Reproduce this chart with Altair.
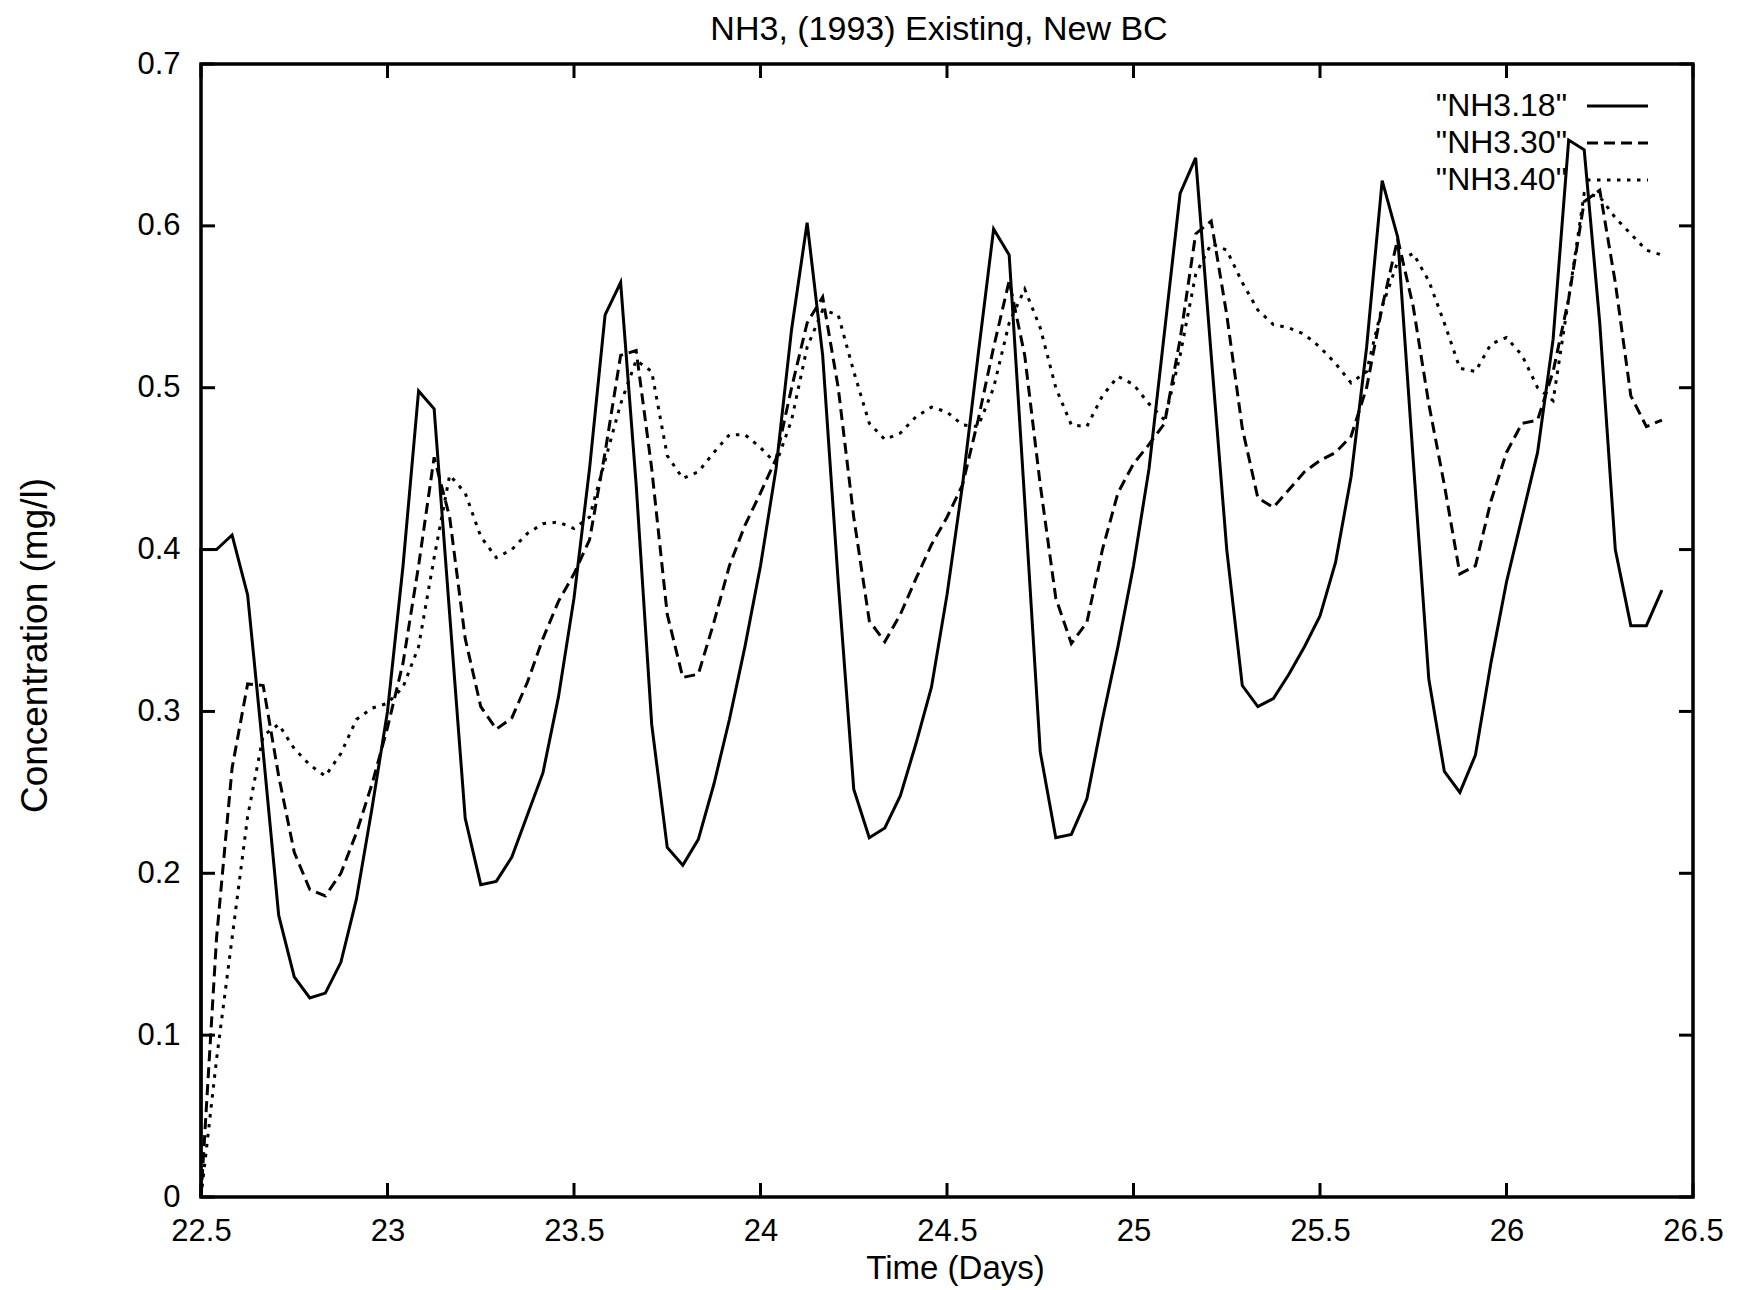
import altair as alt
import pandas as pd

# ---------------- data ----------------
HOURS = list(range(95))                      # hourly output steps
time_days = [22.5 + h / 24 for h in HOURS]   # 22.5 ... 26.417 days

nh3_18_initial = 0.0   # value at t = 22.5 before the jump
nh3_18 = [
    0.400, 0.400, 0.409, 0.372, 0.275, 0.174, 0.136, 0.123, 0.126, 0.145,
    0.184, 0.240, 0.300, 0.390, 0.498, 0.487, 0.360, 0.234, 0.193, 0.195,
    0.210, 0.236, 0.262, 0.309, 0.370, 0.450, 0.545, 0.565, 0.440, 0.292,
    0.216, 0.205, 0.221, 0.255, 0.295, 0.340, 0.390, 0.450, 0.536, 0.602,
    0.520, 0.380, 0.252, 0.222, 0.228, 0.248, 0.280, 0.315, 0.372, 0.440,
    0.520, 0.598, 0.582, 0.430, 0.275, 0.222, 0.224, 0.246, 0.295, 0.340,
    0.390, 0.450, 0.535, 0.620, 0.642, 0.520, 0.400, 0.316, 0.303, 0.308,
    0.323, 0.340, 0.359, 0.392, 0.445, 0.525, 0.628, 0.593, 0.455, 0.320,
    0.263, 0.250, 0.273, 0.330, 0.380, 0.420, 0.460, 0.530, 0.653, 0.647,
    0.540, 0.400, 0.353, 0.353, 0.375,
]
nh3_30 = [
    0.000, 0.160, 0.265, 0.317, 0.316, 0.260, 0.213, 0.190, 0.186, 0.200,
    0.225, 0.255, 0.290, 0.330, 0.390, 0.457, 0.420, 0.345, 0.303, 0.289,
    0.296, 0.318, 0.345, 0.368, 0.385, 0.406, 0.460, 0.520, 0.523, 0.450,
    0.360, 0.321, 0.323, 0.355, 0.390, 0.415, 0.435, 0.456, 0.500, 0.540,
    0.556, 0.500, 0.420, 0.356, 0.343, 0.360, 0.382, 0.403, 0.420, 0.440,
    0.480, 0.525, 0.566, 0.520, 0.440, 0.370, 0.342, 0.355, 0.400, 0.435,
    0.453, 0.465, 0.478, 0.530, 0.595, 0.603, 0.545, 0.475, 0.432, 0.426,
    0.437, 0.448, 0.455, 0.460, 0.470, 0.500, 0.550, 0.592, 0.550, 0.490,
    0.440, 0.385, 0.390, 0.430, 0.460, 0.478, 0.480, 0.510, 0.555, 0.615,
    0.622, 0.565, 0.495, 0.476, 0.480,
]
nh3_40 = [
    0.000, 0.085, 0.160, 0.235, 0.285, 0.292, 0.277, 0.267, 0.260, 0.274,
    0.295, 0.302, 0.305, 0.315, 0.340, 0.395, 0.446, 0.435, 0.408, 0.395,
    0.400, 0.410, 0.416, 0.417, 0.413, 0.420, 0.455, 0.490, 0.517, 0.510,
    0.458, 0.444, 0.448, 0.460, 0.471, 0.471, 0.463, 0.453, 0.480, 0.525,
    0.548, 0.545, 0.510, 0.478, 0.468, 0.472, 0.482, 0.488, 0.485, 0.477,
    0.476, 0.500, 0.540, 0.561, 0.537, 0.500, 0.477, 0.476, 0.495, 0.507,
    0.502, 0.490, 0.480, 0.520, 0.570, 0.589, 0.585, 0.565, 0.548, 0.539,
    0.537, 0.533, 0.525, 0.515, 0.503, 0.510, 0.550, 0.578, 0.583, 0.566,
    0.540, 0.512, 0.510, 0.527, 0.531, 0.520, 0.500, 0.492, 0.555, 0.620,
    0.618, 0.605, 0.595, 0.585, 0.582,
]

x_ticks = [22.5, 23, 23.5, 24, 24.5, 25, 25.5, 26, 26.5]
y_ticks = [0, 0.1, 0.2, 0.3, 0.4, 0.5, 0.6, 0.7]
legend_labels = ['"NH3.18"', '"NH3.30"', '"NH3.40"']
chart_title = "NH3, (1993) Existing, New BC"

# ---------------- table ----------------
rows = [{"t": 22.5, "value": nh3_18_initial, "series": "NH3.18", "order": 0}]
for i, (t, v) in enumerate(zip(time_days, nh3_18)):
    rows.append({"t": t, "value": v, "series": "NH3.18", "order": i + 1})
for name, vals in (("NH3.30", nh3_30), ("NH3.40", nh3_40)):
    for i, (t, v) in enumerate(zip(time_days, vals)):
        rows.append({"t": t, "value": v, "series": name, "order": i})
df = pd.DataFrame(rows)

# ---------------- styling ----------------
FONT = "Liberation Sans"
W, H = 1492, 1133
TICK = 14

xscale = alt.Scale(domain=[22.5, 26.5], nice=False, zero=False)
yscale = alt.Scale(domain=[0, 0.7], nice=False, zero=False)

X = alt.X(
    "t:Q", scale=xscale,
    axis=alt.Axis(
        values=x_ticks, format="~g", ticks=False, tickSize=0, domain=False, grid=False,
        labelFont=FONT, labelFontSize=31, labelColor="black", labelPadding=19,
        labelFlush=False, labelOverlap=False,
        title="Time (Days)", titleFont=FONT, titleFontSize=33, titleFontWeight="normal",
        titleColor="black", titleX=754, titleY=81, titleBaseline="alphabetic",
    ),
)
Y = alt.Y(
    "value:Q", scale=yscale,
    axis=alt.Axis(
        values=y_ticks, format="~g", ticks=False, tickSize=0, domain=False, grid=False,
        labelFont=FONT, labelFontSize=31, labelColor="black", labelPadding=21,
        labelOverlap=False,
        title="Concentration (mg/l)", titleFont=FONT, titleFontSize=37,
        titleFontWeight="normal", titleColor="black",
        titleX=-166, titleY=581, titleBaseline="middle", titleAngle=270,
    ),
)

base = alt.Chart(df)
line18 = base.transform_filter(alt.datum.series == "NH3.18").mark_line(
    color="black", strokeWidth=3).encode(x=X, y=Y, order="order:Q")
line30 = base.transform_filter(alt.datum.series == "NH3.30").mark_line(
    color="black", strokeWidth=3, strokeDash=[11, 6]).encode(x=X, y=Y, order="order:Q")
line40 = base.transform_filter(alt.datum.series == "NH3.40").mark_line(
    color="black", strokeWidth=3, strokeDash=[3.5, 6.5]).encode(x=X, y=Y, order="order:Q")

# inward tick marks on all four sides (gnuplot style)
xt = alt.Chart(pd.DataFrame({"t": x_ticks}))
yt = alt.Chart(pd.DataFrame({"value": y_ticks}))
tick_style = dict(color="black", strokeWidth=3)
ticks_bottom = xt.mark_rule(**tick_style).encode(
    x=X, y=alt.value(H), y2=alt.value(H - TICK))
ticks_top = xt.mark_rule(**tick_style).encode(
    x=X, y=alt.value(0), y2=alt.value(TICK))
ticks_left = yt.mark_rule(**tick_style).encode(
    y=Y, x=alt.value(0), x2=alt.value(TICK))
ticks_right = yt.mark_rule(**tick_style).encode(
    y=Y, x=alt.value(W), x2=alt.value(W - TICK))

# title, centred above the frame
title_layer = alt.Chart(pd.DataFrame({"label": [chart_title]})).mark_text(
    font=FONT, fontSize=34, align="center", baseline="alphabetic", color="black"
).encode(x=alt.value(W / 2 - 8), y=alt.value(-24), text="label:N")

# gnuplot-style key: label on the left, line sample on the right
key_rows = [42, 79, 116]
key_dash = [None, [11, 6], [3.5, 6.5]]
key_layers = []
for lab, yy, dash in zip(legend_labels, key_rows, key_dash):
    one = alt.Chart(pd.DataFrame({"label": [lab]}))
    key_layers.append(
        one.mark_text(font=FONT, fontSize=32, align="right", baseline="middle",
                      color="black").encode(
            x=alt.value(1366), y=alt.value(yy), text="label:N"))
    rule_kw = dict(color="black", strokeWidth=3)
    if dash:
        rule_kw["strokeDash"] = dash
    key_layers.append(
        one.mark_rule(**rule_kw).encode(
            x=alt.value(1386), x2=alt.value(1447), y=alt.value(yy)))

chart = alt.layer(
    line18, line30, line40,
    ticks_bottom, ticks_top, ticks_left, ticks_right,
    title_layer, *key_layers,
).properties(
    width=W, height=H,
    background="white",
    autosize=alt.AutoSizeParams(type="none"),
    padding={"left": 193, "top": 56, "right": 40, "bottom": 92},
).configure_view(
    stroke="black", strokeWidth=3.5
)

chart.save("out.html", embed_options={"renderer": "svg", "actions": False})
